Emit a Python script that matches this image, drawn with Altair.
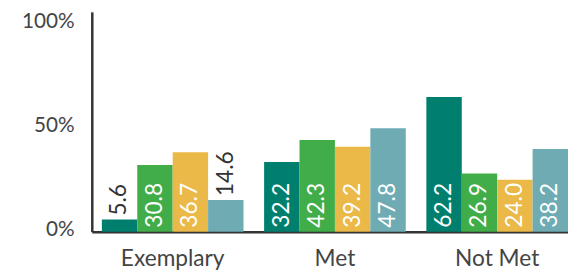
import altair as alt
import pandas as pd

categories = ["Exemplary", "Met", "Not Met"]
series_names = ["Series A", "Series B", "Series C", "Series D"]
colors = ["#007F6E", "#41AD49", "#EAB947", "#6EABB3"]

series_a = [5.6, 32.2, 62.2]
series_b = [30.8, 42.3, 26.9]
series_c = [36.7, 39.2, 24.0]
series_d = [14.6, 47.8, 38.2]

y_ticks = [0, 50, 100]

rows = []
for s, vals in zip(series_names, [series_a, series_b, series_c, series_d]):
    for c, v in zip(categories, vals):
        rows.append({"category": c, "series": s, "value": v})
df = pd.DataFrame(rows)

FONT = "Lato"

base = alt.Chart(df).encode(
    x=alt.X(
        "category:N",
        sort=categories,
        scale=alt.Scale(paddingInner=0.127, paddingOuter=0.031, align=1),
        axis=alt.Axis(
            title=None, labelAngle=0, ticks=False, labelFontSize=23,
            labelPadding=16, domainColor="#333", domainWidth=2.5,
            labelColor="#444", labelFont=FONT,
        ),
    ),
    xOffset=alt.XOffset("series:N", sort=series_names,
                        scale=alt.Scale(paddingInner=0, paddingOuter=0)),
)

bars = base.mark_bar().encode(
    y=alt.Y(
        "value:Q",
        scale=alt.Scale(domain=[0, 101.5], nice=False),
        axis=alt.Axis(
            title=None, values=y_ticks, labelExpr="datum.value + '%'",
            ticks=False, grid=False, labelFontSize=21, labelPadding=18,
            domainColor="#333", domainWidth=2.5, labelColor="#444",
            labelFont=FONT,
            labelOffset={
                "condition": [
                    {"test": "datum.value == 100", "value": 7},
                    {"test": "datum.value == 0", "value": -2},
                ],
                "value": 2,
            },
        ),
    ),
    color=alt.Color("series:N", sort=series_names,
                    scale=alt.Scale(domain=series_names, range=colors),
                    legend=None),
)

text = base.transform_calculate(
    ly="datum.value < 20 ? datum.value : 0"
).mark_text(
    angle=270, align="left", baseline="middle", dx=4, fontSize=23, font=FONT
).encode(
    y=alt.Y("ly:Q", title=None),
    text=alt.Text("value:Q", format=".1f"),
    color=alt.condition("datum.value < 20", alt.value("#333"), alt.value("white")),
)

chart = alt.layer(bars, text).properties(
    width=483, height=223,
    autosize="none",
    padding={"left": 85, "top": 2, "right": 0, "bottom": 39},
).configure_view(stroke=None)

chart.save("out.html", embed_options={"renderer": "svg", "actions": False})
